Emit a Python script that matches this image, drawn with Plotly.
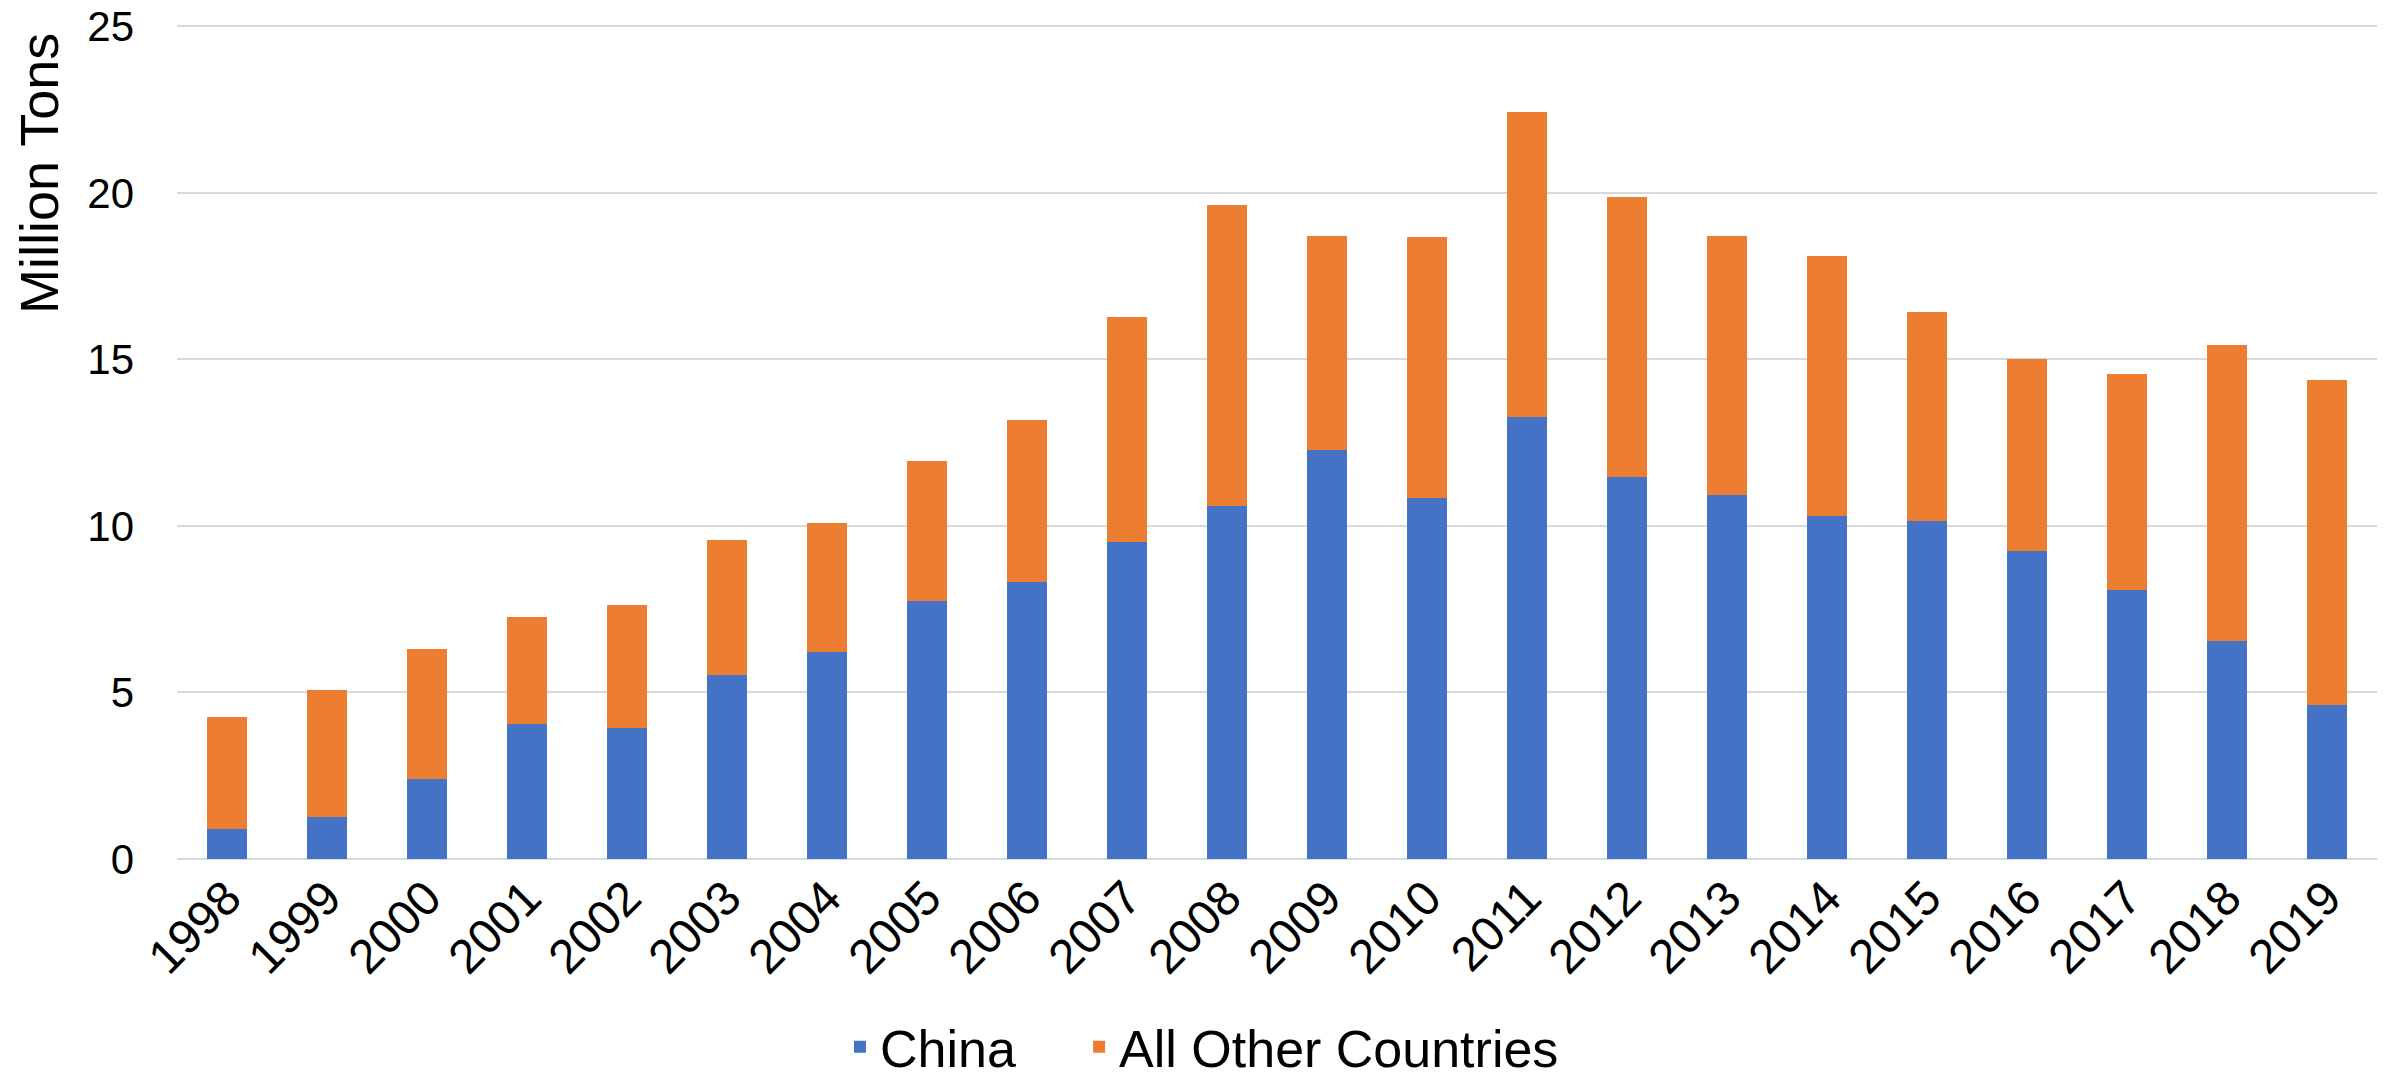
import plotly.graph_objects as go

years = [str(y) for y in range(1998, 2020)]
china = [0.91, 1.25, 2.41, 4.05, 3.92, 5.53, 6.23, 7.75, 8.32, 9.52, 10.61,
         12.28, 10.85, 13.27, 11.47, 10.92, 10.30, 10.15, 9.25, 8.09, 6.56, 4.61]
totals = [4.26, 5.08, 6.31, 7.26, 7.62, 9.57, 10.10, 11.96, 13.17, 16.27, 19.63,
          18.72, 18.69, 22.42, 19.89, 18.72, 18.10, 16.43, 15.00, 14.55, 15.42, 14.39]
others = [round(t - c, 2) for t, c in zip(totals, china)]

y_ticks = [0, 5, 10, 15, 20, 25]

FONT = "Arial, 'Liberation Sans', sans-serif"

fig = go.Figure()
fig.add_trace(go.Bar(name="China", x=years, y=china, marker_color="#4472C4",
                     marker_line_width=0, legend="legend"))
fig.add_trace(go.Bar(name="All Other Countries", x=years, y=others,
                     marker_color="#ED7D31", marker_line_width=0, legend="legend2"))

legend_common = dict(orientation="h", xref="container", yref="container",
                     xanchor="left", y=0.029, yanchor="middle",
                     font=dict(size=52, family=FONT, color="black"),
                     bgcolor="rgba(0,0,0,0)", borderwidth=0)

fig.update_layout(
    width=2377, height=1070,
    barmode="stack", bargap=0.6,
    plot_bgcolor="white", paper_bgcolor="white",
    margin=dict(l=169, r=8, t=15, b=219, autoexpand=False),
    font=dict(family=FONT, color="black", size=42),
    showlegend=True,
    legend=dict(x=0.350, **legend_common),
    legend2=dict(x=0.4506, **legend_common),
    annotations=[dict(text="Million Tons", xref="paper", yref="paper",
                      x=-0.0627, y=0.99, xanchor="center", yanchor="top",
                      textangle=-90, showarrow=False,
                      font=dict(size=54, family=FONT, color="black"))],
)
fig.update_xaxes(tickangle=-45, showgrid=False, showline=False, ticks="",
                 tickfont=dict(size=48), automargin=False)
fig.update_yaxes(range=[0, 25.1], tickvals=y_ticks, showgrid=True, gridcolor="#D9D9D9",
                 gridwidth=2, zeroline=True, zerolinecolor="#D9D9D9", zerolinewidth=2,
                 showline=False, ticks="", ticklabelstandoff=42, tickfont=dict(size=42),
                 ticklabeloverflow="allow", automargin=False)

fig.write_html("out.html")
